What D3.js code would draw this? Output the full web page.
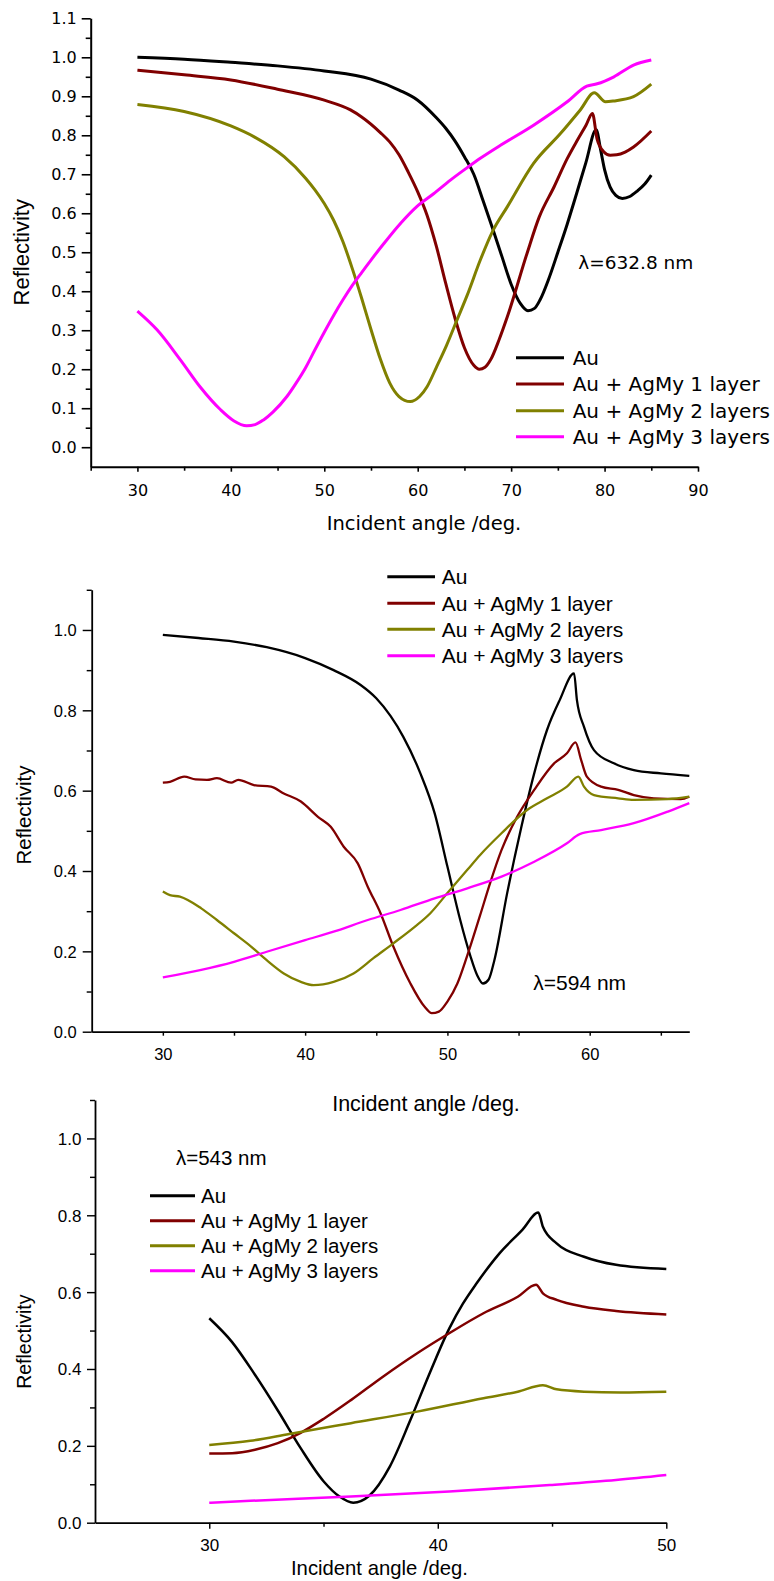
<!DOCTYPE html>
<html><head><meta charset="utf-8">
<script src="https://cdn.jsdelivr.net/npm/d3@7"></script>
<style>
html,body{margin:0;padding:0;background:#fff;}
svg{display:block;}
</style></head>
<body>
<script>
// ---------- DATA ----------
const seriesNames = ["Au", "Au + AgMy 1 layer", "Au + AgMy 2 layers", "Au + AgMy 3 layers"];
const seriesColors = ["#000000", "#800000", "#808000", "#ff00ff"];

// Panel A: λ = 632.8 nm
const a_au_x = [30,35,40,45,50,55,58,60,62,63,64,65,66,67,68,69,70,71,71.8,72.5,73.1,74,75,76,77,78,79.1,79.6,80,80.6,81.2,81.9,82.7,83.5,84.3,85];
const a_au_y = [1.000,0.995,0.987,0.978,0.965,0.944,0.916,0.890,0.845,0.818,0.785,0.745,0.700,0.632,0.562,0.490,0.418,0.368,0.350,0.356,0.378,0.430,0.500,0.572,0.650,0.730,0.814,0.760,0.712,0.667,0.646,0.638,0.643,0.657,0.675,0.698];
const a_l1_x = [30,35,40,45,50,52.8,54,56,57,58,59,60,61,62,63,64,65,66,66.6,67.2,67.8,68.7,69.6,71.7,73,74.6,76,77.1,78,78.7,79.2,79.9,80.6,81.3,82.2,83.1,85];
const a_l1_y = [0.967,0.955,0.942,0.918,0.890,0.865,0.847,0.807,0.783,0.750,0.705,0.655,0.595,0.515,0.420,0.330,0.255,0.210,0.200,0.205,0.224,0.275,0.335,0.497,0.590,0.668,0.740,0.788,0.825,0.856,0.790,0.758,0.749,0.750,0.757,0.770,0.811];
const a_l2_x = [30,35,40,42.5,45.7,48,49,50,51,52,53,54,55,56,57,58,59.2,60.2,61,62,63.1,64.2,65.3,66.7,68,69.6,72.4,75.3,77.4,78.9,80.1,81,83.1,85];
const a_l2_y = [0.879,0.861,0.824,0.796,0.745,0.690,0.660,0.625,0.582,0.527,0.458,0.382,0.302,0.226,0.165,0.130,0.117,0.130,0.155,0.205,0.262,0.326,0.390,0.480,0.553,0.617,0.728,0.805,0.865,0.909,0.886,0.888,0.899,0.931];
const a_l3_x = [30,32.1,34.6,36.7,38.9,40.3,41.7,42.6,43.5,44.5,46,47,48,49,50,51,52,53,54,55,56.4,58.2,59.9,61.7,63.5,65.3,66.7,68.9,72.4,76,78.1,79.2,81,83.1,85];
const a_l3_y = [0.349,0.301,0.224,0.155,0.096,0.068,0.055,0.058,0.070,0.090,0.130,0.165,0.204,0.250,0.295,0.338,0.378,0.415,0.448,0.480,0.523,0.575,0.617,0.650,0.685,0.717,0.741,0.775,0.826,0.886,0.926,0.932,0.950,0.980,0.993];

// Panel B: λ = 594 nm
const b_au_x = [30,32.5,35,37.3,40,42,43.9,45,46,46.9,48.1,49.1,50,50.9,51.6,52.1,52.5,52.9,53.3,54.2,55.2,56.1,57,57.9,58.9,59.1,59.6,60.3,61.7,63.1,65,67];
const b_au_y = [0.988,0.980,0.971,0.957,0.930,0.900,0.863,0.830,0.786,0.734,0.643,0.544,0.411,0.278,0.190,0.140,0.120,0.130,0.178,0.345,0.510,0.643,0.751,0.826,0.892,0.826,0.759,0.701,0.668,0.651,0.643,0.637];
const b_l1_x = [30,30.5,31.5,32.3,33.1,33.8,34.8,35.3,36.4,37.6,38.5,39.7,40.9,41.8,42.7,43.7,44.4,45.3,46.2,47.4,48.4,48.9,49.4,50,50.7,51.4,52.3,53,53.8,54.9,56.1,57.5,58.4,59,59.4,59.8,60.8,62,63.1,64.5,66.4,67];
const b_l1_y = [0.620,0.622,0.635,0.628,0.627,0.631,0.620,0.627,0.614,0.610,0.593,0.573,0.535,0.510,0.461,0.419,0.361,0.295,0.212,0.120,0.062,0.046,0.050,0.075,0.120,0.190,0.290,0.370,0.452,0.535,0.602,0.668,0.693,0.720,0.676,0.635,0.610,0.602,0.589,0.581,0.579,0.585];
const b_l2_x = [30,30.5,31.2,32.7,33.8,35,36.2,37.3,38.5,39.7,40.6,42,43.4,44.8,46.2,47.7,48.8,50,51.4,52.3,53.8,55.6,57,58.4,59.2,59.6,60.3,62,63.1,65.5,67];
const b_l2_y = [0.349,0.340,0.336,0.307,0.278,0.245,0.212,0.178,0.145,0.124,0.116,0.124,0.145,0.183,0.220,0.261,0.295,0.345,0.403,0.440,0.494,0.552,0.581,0.610,0.635,0.610,0.589,0.581,0.577,0.579,0.585];
const b_l3_x = [30,32.7,35,37.3,40,42,44.4,46.7,49.1,51.4,53.8,56.1,58.4,59.3,60.8,63.1,65.5,67];
const b_l3_y = [0.135,0.154,0.174,0.199,0.228,0.249,0.278,0.303,0.332,0.357,0.386,0.423,0.469,0.492,0.502,0.519,0.548,0.569];

// Panel C: λ = 543 nm
const c_au_x = [30,31,32,33,34,35,35.7,36.3,37,37.9,38.8,39.7,40.5,41.1,41.7,42.7,43.7,44.4,44.6,45.2,46.4,47.8,50];
const c_au_y = [0.532,0.470,0.385,0.292,0.194,0.108,0.068,0.052,0.070,0.146,0.267,0.397,0.505,0.570,0.623,0.701,0.762,0.807,0.770,0.727,0.692,0.671,0.660];
const c_l1_x = [30,31,32,33,34,35,36.2,37.6,39.1,40.5,42,43.5,44.3,44.6,45.2,46.4,47.8,50];
const c_l1_y = [0.180,0.181,0.190,0.207,0.234,0.270,0.319,0.380,0.441,0.493,0.545,0.588,0.619,0.597,0.580,0.562,0.551,0.542];
const c_l2_x = [30,31.8,33.5,36.2,39.1,42,43.5,44.6,45.2,46.4,48,50];
const c_l2_y = [0.202,0.213,0.231,0.259,0.289,0.324,0.341,0.358,0.347,0.341,0.339,0.341];
const c_l3_x = [30,31.8,36.2,40.5,44.9,47.8,50];
const c_l3_y = [0.052,0.057,0.068,0.081,0.098,0.111,0.124];

// Tick values
const a_xMajor = [30,40,50,60,70,80,90];
const a_xMinor = [25,35,45,55,65,75,85];
const a_yMajor = [0,0.1,0.2,0.3,0.4,0.5,0.6,0.7,0.8,0.9,1.0,1.1];
const a_yMinor = [0.05,0.15,0.25,0.35,0.45,0.55,0.65,0.75,0.85,0.95,1.05];
const b_xMajor = [30,40,50,60];
const b_xMinor = [35,45,55,65];
const bc_yMajor = [0,0.2,0.4,0.6,0.8,1.0];
const bc_yMinor = [0.1,0.3,0.5,0.7,0.9,1.1];
const c_xMajor = [30,40,50];
const c_xMinor = [35,45];

const xTitle = "Incident angle /deg.";
const yTitle = "Reflectivity";

// ---------- DRAW ----------
const svg = d3.select("body").append("svg").attr("width", 774).attr("height", 1581);

function zip(xs, ys){ return xs.map((v,i)=>[v, ys[i]]); }

function panel(cfg){
  const x = d3.scaleLinear().domain(cfg.xDomain).range(cfg.xRange);
  const y = d3.scaleLinear().domain(cfg.yDomain).range(cfg.yRange);
  const g = svg.append("g");
  const yBase = cfg.yRange[0], xBase = cfg.xRange[0];

  g.append("g").attr("transform", `translate(0,${yBase})`)
    .call(d3.axisBottom(x).tickValues(cfg.xMinor).tickSize(cfg.xMinorLen).tickSizeOuter(0).tickFormat(""))
    .call(s => s.select(".domain").remove());
  g.append("g").attr("transform", `translate(${xBase},0)`)
    .call(d3.axisLeft(y).tickValues(cfg.yMinor).tickSize(cfg.yMinorLen).tickSizeOuter(0).tickFormat(""))
    .call(s => s.select(".domain").remove());

  const ax = g.append("g").attr("transform", `translate(0,${yBase})`)
    .call(d3.axisBottom(x).tickValues(cfg.xMajor).tickSize(cfg.xMajorLen).tickSizeOuter(0).tickFormat(d3.format("d")));
  ax.selectAll(".tick text").attr("y", cfg.xLabelY - yBase).attr("dy", "0.35em")
    .attr("font-family", cfg.font).attr("font-size", cfg.tickFont).attr("fill", "#000");
  const ay = g.append("g").attr("transform", `translate(${xBase},0)`)
    .call(d3.axisLeft(y).tickValues(cfg.yMajor).tickSize(cfg.yMajorLen).tickPadding(cfg.yPad).tickSizeOuter(0).tickFormat(d3.format(".1f")));
  ay.selectAll(".tick text").attr("dy", "0.35em")
    .attr("font-family", cfg.font).attr("font-size", cfg.tickFont).attr("fill", "#000");

  g.selectAll(".domain").attr("stroke", "#000").attr("stroke-width", cfg.axisW);
  g.selectAll(".tick line").attr("stroke", "#000").attr("stroke-width", cfg.axisW * 0.8);

  const line = d3.line().x(d => x(d[0])).y(d => y(d[1])).curve(d3.curveMonotoneX);
  cfg.series.forEach((s, i) => {
    g.append("path").datum(zip(s[0], s[1]))
      .attr("d", line).attr("fill", "none")
      .attr("stroke", seriesColors[i]).attr("stroke-width", cfg.lineW)
      .attr("stroke-linejoin", "round");
  });

  cfg.legend.rows.forEach((ry, i) => {
    g.append("line").attr("x1", cfg.legend.x1).attr("x2", cfg.legend.x2)
      .attr("y1", ry).attr("y2", ry).attr("stroke", seriesColors[i]).attr("stroke-width", cfg.legend.w);
    g.append("text").attr("x", cfg.legend.tx).attr("y", ry).attr("dy", "0.35em")
      .attr("font-family", cfg.legend.font).attr("font-size", cfg.legend.size).text(seriesNames[i]);
  });

  g.append("text").attr("x", cfg.lambda.x).attr("y", cfg.lambda.y).attr("dy", "0.35em")
    .attr("font-family", cfg.lambda.font).attr("font-size", cfg.lambda.size).text(cfg.lambda.text);

  g.append("text").attr("x", cfg.xTitle.x).attr("y", cfg.xTitle.y).attr("dy", "0.35em")
    .attr("text-anchor", "middle").attr("font-family", cfg.xTitle.font).attr("font-size", cfg.xTitle.size).text(xTitle);
  g.append("text").attr("transform", `translate(${cfg.yTitle.x},${cfg.yTitle.y}) rotate(-90)`)
    .attr("dy", "0.35em").attr("text-anchor", "middle")
    .attr("font-family", "Liberation Sans, Arial, sans-serif").attr("font-size", cfg.yTitle.size).text(yTitle);
}

const SANS = "Liberation Sans, Arial, sans-serif";
const WIDE = "DejaVu Sans, sans-serif";

panel({
  xDomain: [25, 90], xRange: [90.7, 698],
  yDomain: [-0.05, 1.1], yRange: [466.7, 18.3],
  xMajor: a_xMajor, xMinor: a_xMinor, yMajor: a_yMajor, yMinor: a_yMinor,
  xMajorLen: 5, xMinorLen: 4, yMajorLen: 9, yMinorLen: 5, yPad: 5,
  xLabelY: 490, font: WIDE, tickFont: 16, axisW: 2, lineW: 3,
  series: [[a_au_x, a_au_y], [a_l1_x, a_l1_y], [a_l2_x, a_l2_y], [a_l3_x, a_l3_y]],
  legend: { x1: 516, x2: 564, tx: 572.7, rows: [357.7, 384, 410.7, 436.7], w: 3, font: WIDE, size: 20 },
  lambda: { x: 578.3, y: 262.3, text: "λ=632.8 nm", font: WIDE, size: 18.5 },
  xTitle: { x: 424, y: 523, font: WIDE, size: 19.5 },
  yTitle: { x: 21.7, y: 252.3, size: 22 }
});

panel({
  xDomain: [25, 67], xRange: [91.7, 689.3],
  yDomain: [0, 1.1], yRange: [1031.7, 589.8],
  xMajor: b_xMajor, xMinor: b_xMinor, yMajor: bc_yMajor, yMinor: bc_yMinor,
  xMajorLen: 4, xMinorLen: 4, yMajorLen: 9, yMinorLen: 5, yPad: 6,
  xLabelY: 1054.3, font: SANS, tickFont: 16.5, axisW: 1.8, lineW: 2.3,
  series: [[b_au_x, b_au_y], [b_l1_x, b_l1_y], [b_l2_x, b_l2_y], [b_l3_x, b_l3_y]],
  legend: { x1: 387.3, x2: 435, tx: 441.7, rows: [576.7, 603.3, 629.3, 655.7], w: 3, font: SANS, size: 21 },
  lambda: { x: 533.3, y: 982.7, text: "λ=594 nm", font: SANS, size: 21 },
  xTitle: { x: 426, y: 1103, font: SANS, size: 21.5 },
  yTitle: { x: 24, y: 815, size: 20.5 }
});

panel({
  xDomain: [25, 50], xRange: [95, 666.3],
  yDomain: [0, 1.1], yRange: [1522.7, 1100],
  xMajor: c_xMajor, xMinor: c_xMinor, yMajor: bc_yMajor, yMinor: bc_yMinor,
  xMajorLen: 6, xMinorLen: 4, yMajorLen: 8, yMinorLen: 5, yPad: 5.5,
  xLabelY: 1545, font: SANS, tickFont: 17, axisW: 1.8, lineW: 2.5,
  series: [[c_au_x, c_au_y], [c_l1_x, c_l1_y], [c_l2_x, c_l2_y], [c_l3_x, c_l3_y]],
  legend: { x1: 150, x2: 195, tx: 201, rows: [1195.7, 1220.7, 1245.7, 1270.7], w: 3, font: SANS, size: 20.5 },
  lambda: { x: 176, y: 1158.3, text: "λ=543 nm", font: SANS, size: 20.5 },
  xTitle: { x: 379.5, y: 1568, font: SANS, size: 20.3 },
  yTitle: { x: 24, y: 1341.7, size: 19.5 }
});
</script>
</body></html>
